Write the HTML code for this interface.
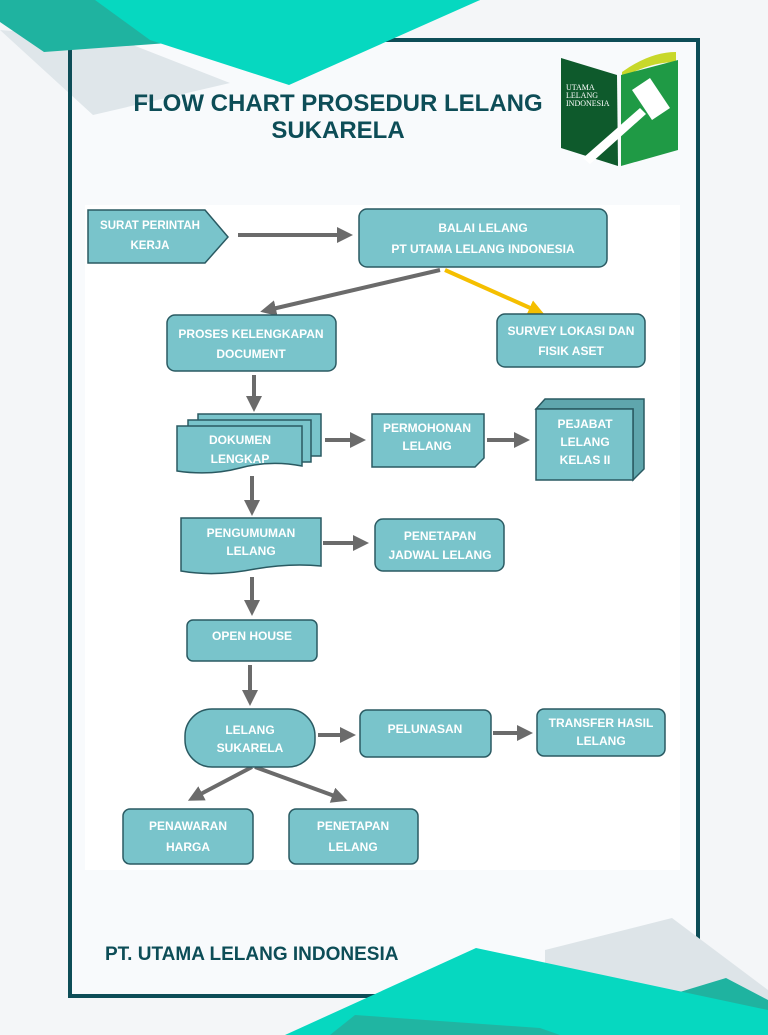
<!DOCTYPE html>
<html><head><meta charset="utf-8"><style>
html,body{margin:0;padding:0;background:#f4f6f8;}
svg{display:block}
.t{font-family:"Liberation Sans",sans-serif;font-weight:bold;fill:#fff;font-size:12px;text-anchor:middle}
.n{fill:#79c4cb;stroke:#2a5a62;stroke-width:1.5}
.a{stroke:#6b6b6b;stroke-width:4;fill:none}
</style></head><body>
<svg width="768" height="1035" viewBox="0 0 768 1035" xmlns="http://www.w3.org/2000/svg">
<defs>
<marker id="h" markerWidth="4" markerHeight="4" refX="2" refY="2" orient="auto" markerUnits="strokeWidth"><path d="M0,0 L4,2 L0,4 z" fill="#6b6b6b"/></marker>
<marker id="hy" markerWidth="4" markerHeight="4" refX="2" refY="2" orient="auto" markerUnits="strokeWidth"><path d="M0,0 L4,2 L0,4 z" fill="#f5bf00"/></marker>
</defs>
<rect width="768" height="1035" fill="#f4f6f8"/>
<!-- frame fill -->
<rect x="70" y="40" width="628" height="956" fill="#f8fafc"/>
<!-- top gray -->
<polygon points="0,30 120,40 230,83 93,115" fill="#dfe6ea"/>
<!-- frame stroke -->
<rect x="70" y="40" width="628" height="956" fill="none" stroke="#0d4d57" stroke-width="4"/>
<!-- top teal -->
<polygon points="0,0 480,0 400,26 44,52 0,22" fill="#1fb3a0"/>
<polygon points="95,0 480,0 289,85 150,40" fill="#06d8c0"/>
<!-- chart area -->
<rect x="85" y="205" width="595" height="665" fill="#ffffff"/>
<!-- title -->
<text x="338" y="111" font-family="Liberation Sans,sans-serif" font-weight="bold" font-size="24" fill="#0d4d57" text-anchor="middle">FLOW CHART PROSEDUR LELANG</text>
<text x="338" y="138" font-family="Liberation Sans,sans-serif" font-weight="bold" font-size="24" fill="#0d4d57" text-anchor="middle">SUKARELA</text>
<!-- logo -->
<path d="M622,72 Q650,52 676,52 L676,62 Q650,62 622,78z" fill="#c8d82a"/>
<polygon points="561,58 617,75 618,166 561,148" fill="#0e5a2c"/>
<polygon points="621,75 678,60 678,150 621,166" fill="#1f9a45"/>
<text x="566" y="90" font-family="Liberation Serif,serif" font-size="8" fill="#fff">UTAMA</text>
<text x="566" y="98" font-family="Liberation Serif,serif" font-size="8" fill="#fff">LELANG</text>
<text x="566" y="106" font-family="Liberation Serif,serif" font-size="8" fill="#fff">INDONESIA</text>
<polygon points="583,158 640,108 646,114 590,164" fill="#fff"/>
<polygon points="632,90 650,78 670,108 652,120" fill="#fff"/>
<!-- arrows -->
<line x1="238" y1="235" x2="345" y2="235" class="a" marker-end="url(#h)"/>
<line x1="440" y1="270" x2="268" y2="310" class="a" marker-end="url(#h)"/>
<line x1="445" y1="270" x2="537" y2="311" stroke="#f5bf00" stroke-width="4" marker-end="url(#hy)"/>
<line x1="254" y1="375" x2="254" y2="404" class="a" marker-end="url(#h)"/>
<line x1="325" y1="440" x2="358" y2="440" class="a" marker-end="url(#h)"/>
<line x1="487" y1="440" x2="522" y2="440" class="a" marker-end="url(#h)"/>
<line x1="252" y1="476" x2="252" y2="508" class="a" marker-end="url(#h)"/>
<line x1="323" y1="543" x2="361" y2="543" class="a" marker-end="url(#h)"/>
<line x1="252" y1="577" x2="252" y2="608" class="a" marker-end="url(#h)"/>
<line x1="250" y1="665" x2="250" y2="698" class="a" marker-end="url(#h)"/>
<line x1="318" y1="735" x2="348" y2="735" class="a" marker-end="url(#h)"/>
<line x1="493" y1="733" x2="525" y2="733" class="a" marker-end="url(#h)"/>
<line x1="252" y1="767" x2="195" y2="797" class="a" marker-end="url(#h)"/>
<line x1="255" y1="767" x2="340" y2="798" class="a" marker-end="url(#h)"/>
<!-- nodes -->
<polygon class="n" points="88,210 205,210 228,237 205,263 88,263"/>
<text class="t" x="150" y="229" style="font-size:11.5px">SURAT PERINTAH</text><text class="t" x="150" y="249" style="font-size:11.5px">KERJA</text>
<rect class="n" x="359" y="209" width="248" height="58" rx="8"/>
<text class="t" x="483" y="232">BALAI LELANG</text><text class="t" x="483" y="253">PT UTAMA LELANG INDONESIA</text>
<rect class="n" x="167" y="315" width="169" height="56" rx="8"/>
<text class="t" x="251" y="338">PROSES KELENGKAPAN</text><text class="t" x="251" y="358">DOCUMENT</text>
<rect class="n" x="497" y="314" width="148" height="53" rx="8"/>
<text class="t" x="571" y="335">SURVEY LOKASI DAN</text><text class="t" x="571" y="355">FISIK ASET</text>
<rect class="n" x="198" y="414" width="123" height="42"/>
<rect class="n" x="188" y="420" width="123" height="42"/>
<path class="n" d="M177,426 H302 V466 Q270,460 240,468 Q210,476 177,471 Z"/>
<text class="t" x="240" y="444">DOKUMEN</text><text class="t" x="240" y="463">LENGKAP</text>
<path class="n" d="M372,414 H484 V458 L475,467 H372 Z"/>
<text class="t" x="427" y="432">PERMOHONAN</text><text class="t" x="427" y="450">LELANG</text>
<polygon class="n" points="536,409 545,399 644,399 644,469 633,480 633,409" style="fill:#5fa6ad"/>
<rect class="n" x="536" y="409" width="97" height="71"/>
<text class="t" x="585" y="428">PEJABAT</text><text class="t" x="585" y="446">LELANG</text><text class="t" x="585" y="464">KELAS II</text>
<path class="n" d="M181,518 H321 V566 Q290,563 255,569 Q215,577 181,571 Z"/>
<text class="t" x="251" y="537">PENGUMUMAN</text><text class="t" x="251" y="555">LELANG</text>
<rect class="n" x="375" y="519" width="129" height="52" rx="8"/>
<text class="t" x="440" y="540">PENETAPAN</text><text class="t" x="440" y="559">JADWAL LELANG</text>
<rect class="n" x="187" y="620" width="130" height="41" rx="6"/>
<text class="t" x="252" y="640">OPEN HOUSE</text>
<rect class="n" x="185" y="709" width="130" height="58" rx="27"/>
<text class="t" x="250" y="734">LELANG</text><text class="t" x="250" y="752">SUKARELA</text>
<rect class="n" x="360" y="710" width="131" height="47" rx="7"/>
<text class="t" x="425" y="733">PELUNASAN</text>
<rect class="n" x="537" y="709" width="128" height="47" rx="7"/>
<text class="t" x="601" y="727">TRANSFER HASIL</text><text class="t" x="601" y="745">LELANG</text>
<rect class="n" x="123" y="809" width="130" height="55" rx="7"/>
<text class="t" x="188" y="830">PENAWARAN</text><text class="t" x="188" y="851">HARGA</text>
<rect class="n" x="289" y="809" width="129" height="55" rx="7"/>
<text class="t" x="353" y="830">PENETAPAN</text><text class="t" x="353" y="851">LELANG</text>
<!-- footer -->
<text x="105" y="960" font-family="Liberation Sans,sans-serif" font-weight="bold" font-size="19" fill="#0d4d57">PT. UTAMA LELANG INDONESIA</text>
<!-- bottom decorations -->
<polygon points="545,950 672,918 768,990 768,1035 545,1035" fill="#dde4e8"/>
<polygon points="660,998 726,978 768,1000 768,1035" fill="#1fb3a0"/>
<polygon points="476,948 768,1010 768,1035 285,1035" fill="#06d8c0"/>
<polygon points="330,1035 355,1015 540,1028 560,1035" fill="#20b5a2"/>
</svg>
</body></html>
